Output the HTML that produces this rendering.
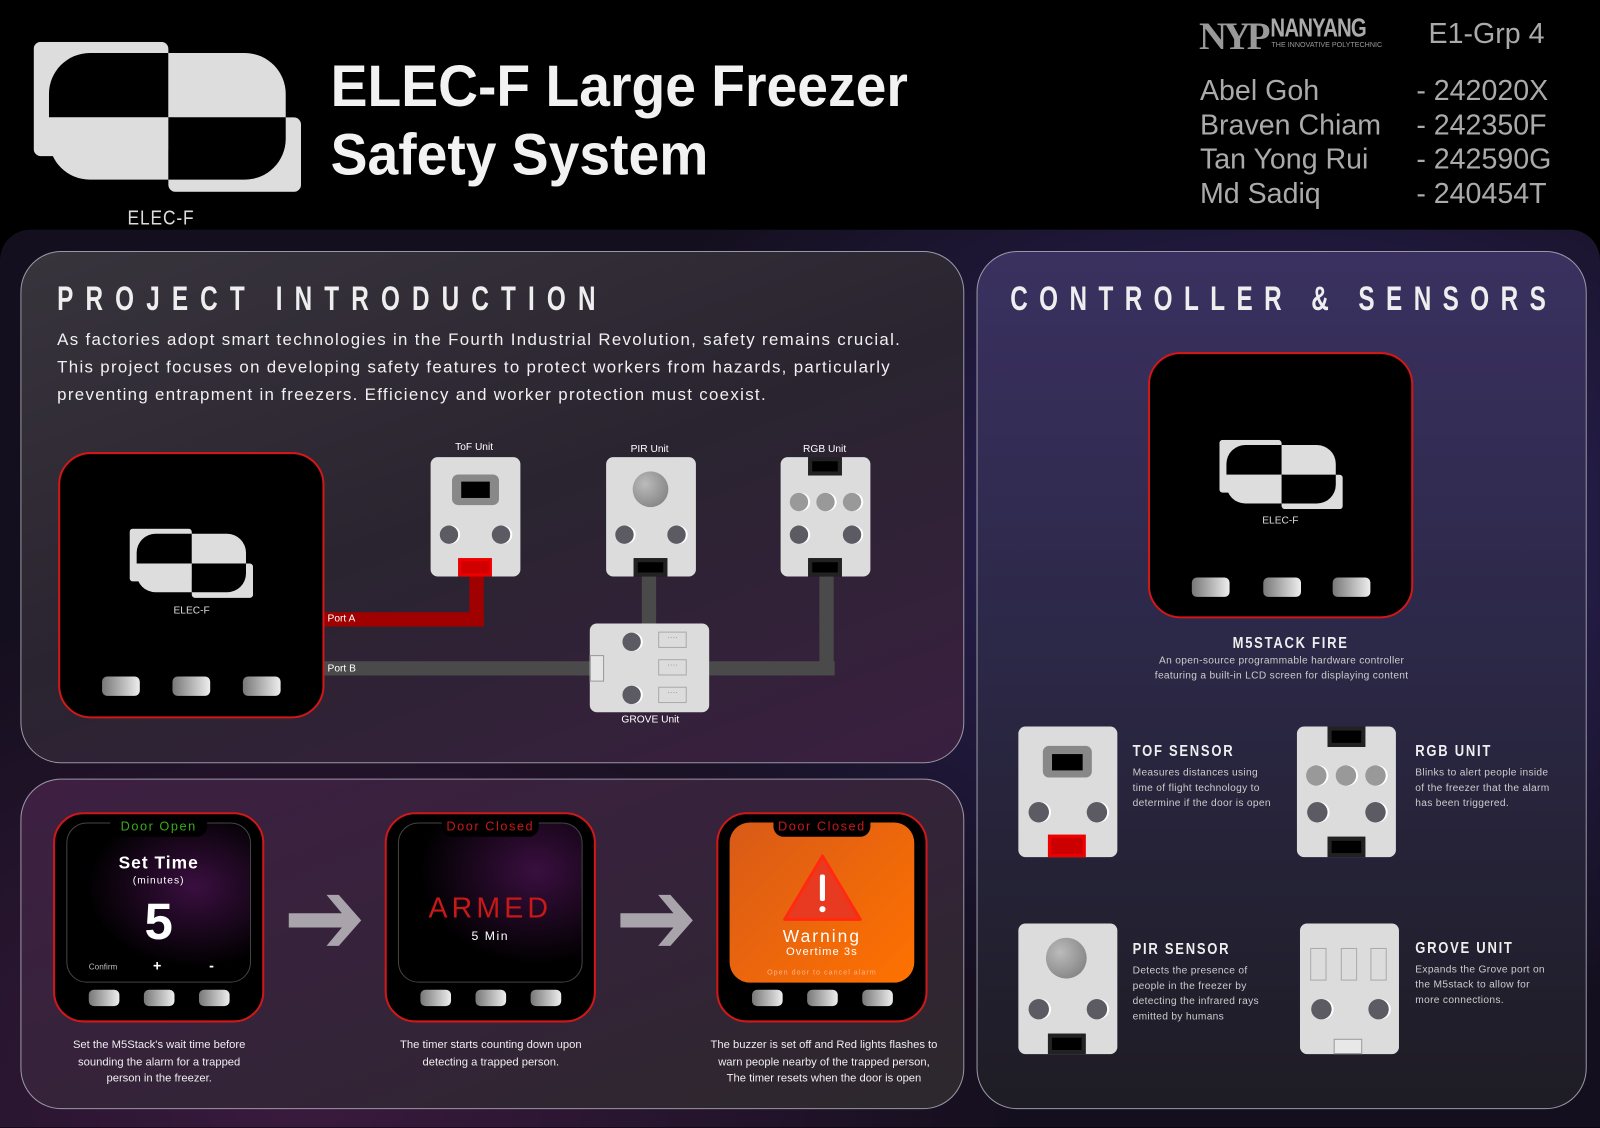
<!DOCTYPE html>
<html><head><meta charset="utf-8">
<style>
*{margin:0;padding:0;box-sizing:border-box}
html,body{width:1600px;height:1128px;overflow:hidden;background:#000}
#w{position:absolute;left:0;top:0;width:1568px;height:1105px;transform:scale(1.0204);transform-origin:0 0;font-family:"Liberation Sans Narrow","Liberation Sans",sans-serif;color:#fff}
.a{position:absolute}
.panel{position:absolute;border:1.5px solid #9a98a6;border-radius:40px}
.h{font-weight:bold;letter-spacing:17px;font-size:34px;color:#eee;white-space:nowrap;transform:scaleX(0.7);transform-origin:0 0}
.dev{position:absolute;background:#000;border:2px solid #d01818;border-radius:32px}
.btn{position:absolute;width:37px;height:19px;border-radius:5px;background:linear-gradient(90deg,#777,#eee)}
.unit{position:absolute;background:#dcdcdc;border-radius:7px}
.hole{position:absolute;width:18px;height:18px;border-radius:50%;background:#5c5a62;box-shadow:2px 0 0 #fff}
.blk{position:absolute;background:#000;border:4px solid #222}
.cap{position:absolute;font-size:11px;text-align:center;line-height:16.5px;color:#eee}
.st{font-weight:bold;font-size:15px;letter-spacing:2px;color:#eee;transform:scaleX(0.85);transform-origin:0 0;white-space:nowrap}
.sd{font-size:10px;line-height:15px;color:#ccc;letter-spacing:.3px}
</style></head><body>
<svg width="0" height="0" style="position:absolute">
<defs>
<symbol id="logo" viewBox="0 0 262 147">
<clipPath id="pill"><rect x="15" y="11" width="232" height="124" rx="40"/></clipPath>
<rect x="0" y="0" width="132" height="112" rx="7" fill="#ddd"/>
<rect x="132" y="74" width="130" height="73" rx="7" fill="#ddd"/>
<g clip-path="url(#pill)">
<rect x="0" y="0" width="132" height="74" fill="#000"/>
<rect x="132" y="0" width="130" height="74" fill="#ddd"/>
<rect x="0" y="74" width="132" height="73" fill="#ddd"/>
<rect x="132" y="74" width="130" height="73" fill="#000"/>
</g>
</symbol>
</defs></svg>
<div id="w">
<div class="a" style="left:0;top:225px;width:1568px;height:880px;background:radial-gradient(ellipse 700px 500px at 1250px 300px,#2e2560,transparent),radial-gradient(ellipse 700px 500px at 300px 850px,#3a1a3e,transparent),#140f1e;border-radius:30px 30px 0 0"></div>

<svg class="a" style="left:33px;top:41px" width="262" height="147"><use href="#logo"/></svg>
<div class="a" style="left:125px;top:203px;font-size:20px;color:#ddd;letter-spacing:1px;transform:scaleX(0.85);transform-origin:0 0">ELEC-F</div>
<div class="a" style="left:324px;top:52px;font-size:57px;font-weight:bold;line-height:67px;color:#f2f2f2;white-space:nowrap;transform:scaleX(0.95);transform-origin:0 0">ELEC-F Large Freezer<br>Safety System</div>
<div class="a" style="left:1175px;top:14px;font-family:'Liberation Serif',serif;font-size:38px;color:#999;letter-spacing:-4px;font-weight:bold">NYP</div>
<div class="a" style="left:1245px;top:14px;font-size:25px;color:#aaa;font-weight:bold;letter-spacing:-1px;transform:scaleX(0.8);transform-origin:0 0">NANYANG</div>
<div class="a" style="left:1246px;top:41px;font-size:7px;color:#999">THE INNOVATIVE POLYTECHNIC</div>
<div class="a" style="left:1400px;top:17px;font-size:28px;color:#aaa">E1-Grp 4</div>
<div class="a" style="left:1176px;top:72px;font-size:28px;line-height:33.5px;color:#aaa">Abel Goh<br>Braven Chiam<br>Tan Yong Rui<br>Md Sadiq</div>
<div class="a" style="left:1388px;top:72px;font-size:28px;line-height:33.5px;color:#aaa">- 242020X<br>- 242350F<br>- 242590G<br>- 240454T</div>

<div class="panel" style="left:20px;top:246px;width:925px;height:502px;background:linear-gradient(160deg,#38343c 0%,#2a2430 50%,#3a1f40 100%)"></div>
<div class="a h" style="left:56px;top:274px">PROJECT INTRODUCTION</div>
<div class="a" style="left:56px;top:320px;font-size:16.5px;line-height:27px;color:#f0f0f0;letter-spacing:1.3px;white-space:nowrap">As factories adopt smart technologies in the Fourth Industrial Revolution, safety remains crucial.<br>This project focuses on developing safety features to protect workers from hazards, particularly<br>preventing entrapment in freezers. Efficiency and worker protection must coexist.</div>

<div class="a" style="left:318px;top:600px;width:156px;height:14px;background:#a00000"></div>
<div class="a" style="left:460px;top:560px;width:14px;height:54px;background:#a00000"></div>
<div class="a" style="left:318px;top:648px;width:262px;height:14px;background:#4a4a4a"></div>
<div class="a" style="left:695px;top:648px;width:123px;height:14px;background:#4a4a4a"></div>
<div class="a" style="left:803px;top:560px;width:14px;height:102px;background:#4a4a4a"></div>
<div class="a" style="left:629px;top:560px;width:14px;height:53px;background:#4a4a4a"></div>
<div class="a" style="left:321px;top:601px;font-size:10px">Port A</div>
<div class="a" style="left:321px;top:650px;font-size:10px">Port B</div>

<div class="dev" style="left:57px;top:443px;width:261px;height:261px"></div>
<svg class="a" style="left:127px;top:518px" width="121" height="68"><use href="#logo"/></svg>
<div class="a" style="left:170px;top:593px;font-size:10px;color:#ddd">ELEC-F</div>
<div class="btn" style="left:100px;top:663px"></div><div class="btn" style="left:169px;top:663px"></div><div class="btn" style="left:238px;top:663px"></div>

<div class="a" style="left:446px;top:433px;font-size:10px">ToF Unit</div>
<div class="unit" style="left:422px;top:448px;width:88px;height:117px"></div>
<div class="a" style="left:443px;top:465px;width:46px;height:30px;background:#888;border-radius:6px"></div>
<div class="a" style="left:452px;top:472px;width:28px;height:16px;background:#000"></div>
<div class="hole" style="left:431px;top:515px"></div><div class="hole" style="left:482px;top:515px"></div>
<div class="a" style="left:449px;top:547px;width:33px;height:18px;background:#d00000;border:3px solid #e00"></div>

<div class="a" style="left:618px;top:435px;font-size:10px">PIR Unit</div>
<div class="unit" style="left:594px;top:448px;width:88px;height:117px"></div>
<div class="a" style="left:620px;top:462px;width:35px;height:35px;border-radius:50%;background:radial-gradient(circle at 35% 35%,#bbb,#777)"></div>
<div class="hole" style="left:603px;top:515px"></div><div class="hole" style="left:654px;top:515px"></div>
<div class="blk" style="left:621px;top:547px;width:33px;height:18px"></div>

<div class="a" style="left:787px;top:435px;font-size:10px">RGB Unit</div>
<div class="unit" style="left:765px;top:448px;width:88px;height:117px"></div>
<div class="blk" style="left:792px;top:448px;width:33px;height:18px"></div>
<div class="hole" style="left:774px;top:483px;background:#999"></div><div class="hole" style="left:800px;top:483px;background:#999"></div><div class="hole" style="left:826px;top:483px;background:#999"></div>
<div class="hole" style="left:774px;top:515px"></div><div class="hole" style="left:826px;top:515px"></div>
<div class="blk" style="left:792px;top:547px;width:33px;height:18px"></div>

<div class="unit" style="left:578px;top:611px;width:117px;height:87px"></div>
<div class="a" style="left:578px;top:642px;width:14px;height:26px;border:1px solid #999;background:#e5e5e5"></div>
<div class="hole" style="left:610px;top:620px"></div><div class="hole" style="left:610px;top:672px"></div>
<div class="a" style="left:645px;top:619px;width:28px;height:16px;border:1px solid #aaa;font-size:8px;color:#888;text-align:center">····</div>
<div class="a" style="left:645px;top:646px;width:28px;height:16px;border:1px solid #aaa;font-size:8px;color:#888;text-align:center">····</div>
<div class="a" style="left:645px;top:673px;width:28px;height:16px;border:1px solid #aaa;font-size:8px;color:#888;text-align:center">····</div>
<div class="a" style="left:609px;top:700px;font-size:10px">GROVE Unit</div>

<div class="panel" style="left:20px;top:763px;width:925px;height:324px;background:linear-gradient(160deg,#3e1f42 0%,#35233a 50%,#2c282c 100%)"></div>

<div class="dev" style="left:52px;top:796px;width:207px;height:206px;border-radius:30px"></div>
<div class="a" style="left:65px;top:806px;width:181px;height:157px;border:1px solid #444;border-radius:20px;background:radial-gradient(ellipse at 70% 40%,#3a0f40,#000 60%),#000"></div>
<div class="a" style="left:108px;top:800px;width:95px;height:20px;background:#000;border-radius:0 0 10px 10px"></div>
<div class="a" style="left:52px;top:803px;width:207px;text-align:center;font-size:12.5px;color:#3aaa1a;letter-spacing:1.5px">Door Open</div>
<div class="a" style="left:52px;top:836px;width:207px;text-align:center;font-size:17px;font-weight:bold;letter-spacing:1px">Set Time</div>
<div class="a" style="left:52px;top:858px;width:207px;text-align:center;font-size:10px;letter-spacing:1px">(minutes)</div>
<div class="a" style="left:52px;top:874px;width:207px;text-align:center;font-size:50px;font-weight:bold">5</div>
<div class="a" style="left:87px;top:943px;font-size:8px;color:#bbb">Confirm</div>
<div class="a" style="left:150px;top:938px;font-size:14px;font-weight:bold">+</div>
<div class="a" style="left:205px;top:938px;font-size:14px;font-weight:bold">-</div>
<div class="btn" style="left:87px;top:970px;width:30px;height:16px"></div><div class="btn" style="left:141px;top:970px;width:30px;height:16px"></div><div class="btn" style="left:195px;top:970px;width:30px;height:16px"></div>
<div class="cap" style="left:40px;top:1016px;width:232px">Set the M5Stack's wait time before<br>sounding the alarm for a trapped<br>person in the freezer.</div>

<svg class="a" style="left:280px;top:875px" width="80" height="55"><path d="M3 20h52l-15-18h12l22 25-22 25h-12l15-18H3z" fill="#a9a4ac"/></svg>

<div class="dev" style="left:377px;top:796px;width:207px;height:206px;border-radius:30px"></div>
<div class="a" style="left:390px;top:806px;width:181px;height:157px;border:1px solid #444;border-radius:20px;background:radial-gradient(ellipse at 75% 30%,#3a0f40,#000 60%),#000"></div>
<div class="a" style="left:433px;top:800px;width:95px;height:20px;background:#000;border-radius:0 0 10px 10px"></div>
<div class="a" style="left:377px;top:803px;width:207px;text-align:center;font-size:12.5px;color:#c81818;letter-spacing:1.5px">Door Closed</div>
<div class="a" style="left:377px;top:874px;width:207px;text-align:center;font-size:28px;color:#c81818;letter-spacing:4px">ARMED</div>
<div class="a" style="left:377px;top:910px;width:207px;text-align:center;font-size:12px;letter-spacing:1.5px">5 Min</div>
<div class="btn" style="left:412px;top:970px;width:30px;height:16px"></div><div class="btn" style="left:466px;top:970px;width:30px;height:16px"></div><div class="btn" style="left:520px;top:970px;width:30px;height:16px"></div>
<div class="cap" style="left:365px;top:1016px;width:232px">The timer starts counting down upon<br>detecting a trapped person.</div>

<svg class="a" style="left:605px;top:875px" width="80" height="55"><path d="M3 20h52l-15-18h12l22 25-22 25h-12l15-18H3z" fill="#a9a4ac"/></svg>

<div class="dev" style="left:702px;top:796px;width:207px;height:206px;border-radius:30px"></div>
<div class="a" style="left:715px;top:806px;width:181px;height:157px;border-radius:20px;background:linear-gradient(135deg,#d85a18,#ff7200)"></div>
<div class="a" style="left:758px;top:800px;width:95px;height:20px;background:#000;border-radius:0 0 10px 10px"></div>
<div class="a" style="left:702px;top:803px;width:207px;text-align:center;font-size:12.5px;color:#c81818;letter-spacing:1.5px">Door Closed</div>
<svg class="a" style="left:765px;top:835px" width="82" height="72"><path d="M41 4 L78 66 L4 66 Z" fill="#e83a20" stroke="#ff2a10" stroke-width="3" stroke-linejoin="round"/><rect x="38.5" y="22" width="5" height="26" rx="2" fill="#fff"/><circle cx="41" cy="56" r="3" fill="#fff"/></svg>
<div class="a" style="left:702px;top:908px;width:207px;text-align:center;font-size:17px;letter-spacing:2px">Warning</div>
<div class="a" style="left:702px;top:927px;width:207px;text-align:center;font-size:11px;letter-spacing:1px">Overtime 3s</div>
<div class="a" style="left:702px;top:950px;width:207px;text-align:center;font-size:7px;color:#ffb088;letter-spacing:1px">Open door to cancel alarm</div>
<div class="btn" style="left:737px;top:970px;width:30px;height:16px"></div><div class="btn" style="left:791px;top:970px;width:30px;height:16px"></div><div class="btn" style="left:845px;top:970px;width:30px;height:16px"></div>
<div class="cap" style="left:685px;top:1016px;width:245px">The buzzer is set off and Red lights flashes to<br>warn people nearby of the trapped person,<br>The timer resets when the door is open</div>

<div class="panel" style="left:957px;top:246px;width:598px;height:841px;background:linear-gradient(180deg,#3a3160 0%,#2c2848 45%,#1e1c24 100%)"></div>
<div class="a h" style="left:990px;top:274px;letter-spacing:16px">CONTROLLER &amp; SENSORS</div>
<div class="dev" style="left:1125px;top:345px;width:260px;height:261px"></div>
<svg class="a" style="left:1195px;top:431px" width="121" height="68"><use href="#logo"/></svg>
<div class="a" style="left:1237px;top:505px;font-size:10px;color:#ddd">ELEC-F</div>
<div class="btn" style="left:1168px;top:566px"></div><div class="btn" style="left:1238px;top:566px"></div><div class="btn" style="left:1306px;top:566px"></div>
<div class="a st" style="left:1208px;top:622px">M5STACK FIRE</div>
<div class="a sd" style="left:1105px;top:640px;width:302px;text-align:center">An open-source programmable hardware controller<br>featuring a built-in LCD screen for displaying content</div>

<div class="unit" style="left:998px;top:712px;width:97px;height:128px"></div>
<div class="a" style="left:1022px;top:731px;width:48px;height:31px;background:#888;border-radius:6px"></div>
<div class="a" style="left:1031px;top:739px;width:30px;height:16px;background:#000"></div>
<div class="hole" style="left:1008px;top:786px;width:20px;height:20px"></div><div class="hole" style="left:1065px;top:786px;width:20px;height:20px"></div>
<div class="a" style="left:1027px;top:818px;width:37px;height:22px;background:#c00;border:3px solid #e00"></div>
<div class="a st" style="left:1110px;top:728px">TOF SENSOR</div>
<div class="a sd" style="left:1110px;top:750px">Measures distances using<br>time of flight technology to<br>determine if the door is open</div>

<div class="unit" style="left:1271px;top:712px;width:97px;height:128px"></div>
<div class="blk" style="left:1301px;top:712px;width:37px;height:20px"></div>
<div class="hole" style="left:1280px;top:750px;width:20px;height:20px;background:#999"></div><div class="hole" style="left:1309px;top:750px;width:20px;height:20px;background:#999"></div><div class="hole" style="left:1338px;top:750px;width:20px;height:20px;background:#999"></div>
<div class="hole" style="left:1281px;top:786px;width:20px;height:20px"></div><div class="hole" style="left:1338px;top:786px;width:20px;height:20px"></div>
<div class="blk" style="left:1301px;top:820px;width:37px;height:20px"></div>
<div class="a st" style="left:1387px;top:728px">RGB UNIT</div>
<div class="a sd" style="left:1387px;top:750px">Blinks to alert people inside<br>of the freezer that the alarm<br>has been triggered.</div>

<div class="unit" style="left:998px;top:905px;width:97px;height:128px"></div>
<div class="a" style="left:1025px;top:919px;width:40px;height:40px;border-radius:50%;background:radial-gradient(circle at 35% 35%,#bbb,#777)"></div>
<div class="hole" style="left:1008px;top:979px;width:20px;height:20px"></div><div class="hole" style="left:1065px;top:979px;width:20px;height:20px"></div>
<div class="blk" style="left:1027px;top:1013px;width:37px;height:20px"></div>
<div class="a st" style="left:1110px;top:922px">PIR SENSOR</div>
<div class="a sd" style="left:1110px;top:944px">Detects the presence of<br>people in the freezer by<br>detecting the infrared rays<br>emitted by humans</div>

<div class="unit" style="left:1274px;top:905px;width:97px;height:128px"></div>
<div class="a" style="left:1284px;top:929px;width:16px;height:32px;border:1px solid #aaa"></div>
<div class="a" style="left:1314px;top:929px;width:16px;height:32px;border:1px solid #aaa"></div>
<div class="a" style="left:1343px;top:929px;width:16px;height:32px;border:1px solid #aaa"></div>
<div class="hole" style="left:1285px;top:979px;width:20px;height:20px"></div><div class="hole" style="left:1341px;top:979px;width:20px;height:20px"></div>
<div class="a" style="left:1307px;top:1018px;width:28px;height:15px;border:1px solid #999;background:#e8e8e8"></div>
<div class="a st" style="left:1387px;top:921px">GROVE UNIT</div>
<div class="a sd" style="left:1387px;top:943px">Expands the Grove port on<br>the M5stack to allow for<br>more connections.</div>
</div>
</body></html>
